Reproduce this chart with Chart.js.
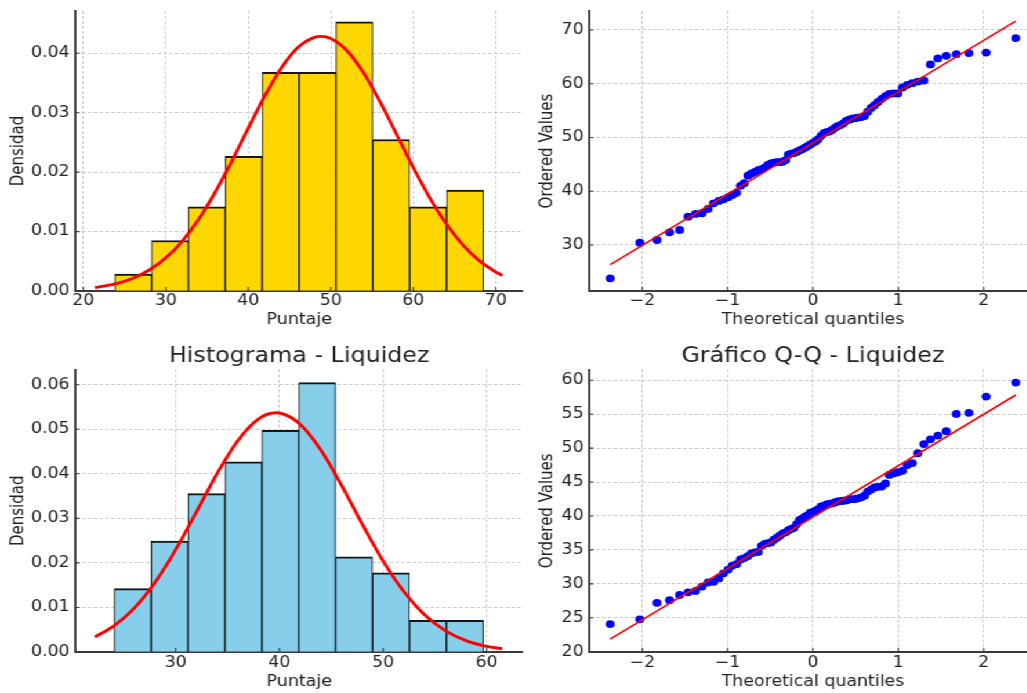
<!DOCTYPE html>
<html>
<head>
<meta charset="utf-8">
<script src="https://cdn.jsdelivr.net/npm/chart.js@4.4.1/dist/chart.umd.min.js"></script>
<style>
  html, body { margin: 0; padding: 0; background: #fff; overflow: hidden; width: 1027px; height: 693px; }
  #fig { position: absolute; left: 0; top: 0; height: 693px; transform-origin: 0 0; }
  #fig canvas { position: absolute; }
</style>
</head>
<body>
<div id="fig"></div>
<script>
// ---------------- data: first variable (upper row) ----------------
const S1_BIN_EDGES = [23.8, 28.27, 32.74, 37.21, 41.68, 46.15, 50.62, 55.09, 59.56, 64.03, 68.5];
const S1_DENSITY = [0.00283, 0.0085, 0.01416, 0.02266, 0.03682, 0.03682, 0.04531, 0.02549, 0.01416, 0.01699];
const S1_CURVE_X = [21.4, 24, 26, 28, 30, 32, 34, 36, 38, 40, 42, 44, 46, 48, 48.8, 50, 52, 54, 56, 58, 60, 62, 64, 66, 68, 70, 70.8];
const S1_CURVE_Y = [0.000564, 0.001234, 0.002136, 0.003532, 0.005579, 0.008411, 0.01211, 0.01666, 0.02186, 0.02742,
                    0.03282, 0.03752, 0.04096, 0.04269, 0.04285, 0.04249, 0.04039, 0.03666, 0.03177, 0.0263,
                    0.02078, 0.01568, 0.0113, 0.007777, 0.005108, 0.003206, 0.002627];
const S1_ORDERED = [23.8, 30.43, 30.93, 32.36, 32.79, 35.27, 35.77, 35.9, 36.7, 37.75,
                    38.2, 38.5, 38.9, 39.3, 39.7, 41.0, 41.5, 42.9, 43.3, 43.6,
                    43.9, 44.1, 44.4, 44.9, 45.2, 45.3, 45.4, 45.4, 45.5, 45.8,
                    46.8, 47.0, 47.1, 47.3, 47.6, 47.8, 48.1, 48.4, 48.7, 49.0,
                    49.3, 49.7, 50.3, 50.8, 51.0, 51.1, 51.4, 51.8, 52.1, 52.3,
                    52.6, 53.1, 53.3, 53.5, 53.6, 53.7, 53.8, 54.0, 54.8, 55.5,
                    56.0, 56.6, 57.2, 57.7, 58.1, 58.2, 58.2, 59.3, 59.8, 60.1,
                    60.4, 60.6, 63.6, 64.7, 65.2, 65.5, 65.7, 65.8, 68.5];
const S1_FIT_X = [-2.377, 2.377];
const S1_FIT_Y = [26.35, 71.65];

// ---------------- data: Liquidez (lower row) ----------------
const LIQ_BIN_EDGES = [24.07, 27.63, 31.19, 34.75, 38.31, 41.87, 45.43, 48.99, 52.55, 56.11, 59.67];
const LIQ_DENSITY = [0.01422, 0.02489, 0.03556, 0.04267, 0.04978, 0.06045, 0.02134, 0.01778, 0.00711, 0.00711];
const LIQ_CURVE_X = [22.2, 24, 26, 28, 30, 32, 34, 36, 38, 39.68, 40, 42, 44, 46, 48, 50, 52, 54, 56, 58, 60, 61.5];
const LIQ_CURVE_Y = [0.003374, 0.005792, 0.009858, 0.01561, 0.02298, 0.03147, 0.04009, 0.04749, 0.05234, 0.05369,
                     0.05364, 0.05114, 0.04534, 0.0374, 0.02868, 0.02046, 0.01358, 0.008381, 0.004811, 0.002569,
                     0.001276, 0.00072];
const LIQ_ORDERED = [24.07, 24.77, 27.2, 27.6, 28.36, 28.75, 28.95, 29.6, 30.2, 30.3,
                     30.8, 31.55, 32.1, 32.7, 32.9, 33.6, 33.8, 34.1, 34.5, 34.65,
                     34.7, 35.6, 35.9, 36.0, 36.1, 36.5, 36.8, 37.1, 37.45, 37.6,
                     37.9, 38.1, 38.25, 38.8, 39.4, 39.6, 39.9, 40.1, 40.5, 40.6,
                     40.8, 41.0, 41.4, 41.5, 41.7, 41.8, 41.85, 42.0, 42.15, 42.2,
                     42.25, 42.3, 42.45, 42.5, 42.5, 42.6, 42.75, 43.0, 43.6, 43.9,
                     44.2, 44.3, 44.35, 44.8, 46.05, 46.3, 46.45, 46.65, 47.5, 47.8,
                     49.25, 50.6, 51.3, 51.85, 52.5, 55.05, 55.2, 57.6, 59.67];
const LIQ_FIT_X = [-2.377, 2.377];
const LIQ_FIT_Y = [21.86, 57.84];

// theoretical normal quantiles for 79 ordered observations
const THEO_Q = [-2.377, -2.030, -1.828, -1.681, -1.563, -1.464, -1.377, -1.300, -1.230, -1.165,
                -1.105, -1.049, -0.995, -0.945, -0.896, -0.850, -0.806, -0.763, -0.721, -0.681,
                -0.642, -0.603, -0.566, -0.529, -0.493, -0.458, -0.423, -0.389, -0.355, -0.321,
                -0.288, -0.256, -0.223, -0.191, -0.159, -0.127, -0.095, -0.063, -0.032, 0,
                0.032, 0.063, 0.095, 0.127, 0.159, 0.191, 0.223, 0.256, 0.288, 0.321,
                0.355, 0.389, 0.423, 0.458, 0.493, 0.529, 0.566, 0.603, 0.642, 0.681,
                0.721, 0.763, 0.806, 0.850, 0.896, 0.945, 0.995, 1.049, 1.105, 1.165,
                1.230, 1.300, 1.377, 1.464, 1.563, 1.681, 1.828, 2.030, 2.377];

// ---------------- tick values and labels ----------------
const S1_HIST_X_TICKS = [20, 30, 40, 50, 60, 70];
const S1_HIST_X_LABELS = ['20', '30', '40', '50', '60', '70'];
const S1_HIST_Y_TICKS = [0, 0.01, 0.02, 0.03, 0.04];
const S1_HIST_Y_LABELS = ['0.00', '0.01', '0.02', '0.03', '0.04'];
const S1_QQ_Y_TICKS = [30, 40, 50, 60, 70];
const S1_QQ_Y_LABELS = ['30', '40', '50', '60', '70'];
const LIQ_HIST_X_TICKS = [30, 40, 50, 60];
const LIQ_HIST_X_LABELS = ['30', '40', '50', '60'];
const LIQ_HIST_Y_TICKS = [0, 0.01, 0.02, 0.03, 0.04, 0.05, 0.06];
const LIQ_HIST_Y_LABELS = ['0.00', '0.01', '0.02', '0.03', '0.04', '0.05', '0.06'];
const LIQ_QQ_Y_TICKS = [20, 25, 30, 35, 40, 45, 50, 55, 60];
const LIQ_QQ_Y_LABELS = ['20', '25', '30', '35', '40', '45', '50', '55', '60'];
const QQ_X_TICKS = [-2, -1, 0, 1, 2];
const QQ_X_LABELS = ['\u22122', '\u22121', '0', '1', '2'];

// ---------------- styling / layout ----------------
const SX = 1.16;                 // horizontal stretch applied to the whole figure
const TEXT = '#222222';
const SPINE = '#3a3a3a';
const GRID = 'rgba(170,170,170,0.75)';
Chart.defaults.font.family = "'DejaVu Sans', sans-serif";

const fig = document.getElementById('fig');
fig.style.width = (1040 / SX) + 'px';
fig.style.transform = 'scaleX(' + SX + ')';

const pts = (xs, ys) => xs.map((x, i) => ({ x: x, y: ys[i] }));
const bins = (edges, dens) => dens.map((d, i) => ({ x: (edges[i] + edges[i + 1]) / 2, y: d }));

// inward tick marks and the optional panel title
const panelDecor = {
  id: 'panelDecor',
  afterDatasetsDraw(chart, args, opts) {
    const { ctx, chartArea: a } = chart;
    const xs = chart.scales.x, ys = chart.scales.y;
    ctx.save();
    ctx.strokeStyle = SPINE;
    ctx.lineWidth = 1.1;
    ctx.beginPath();
    xs.ticks.forEach(t => { const p = xs.getPixelForValue(t.value); ctx.moveTo(p, a.bottom); ctx.lineTo(p, a.bottom - 4); });
    ys.ticks.forEach(t => { const p = ys.getPixelForValue(t.value); ctx.moveTo(a.left, p); ctx.lineTo(a.left + 3.5, p); });
    ctx.stroke();
    if (opts.title) {
      ctx.fillStyle = TEXT;
      ctx.font = '20.5px "DejaVu Sans"';
      ctx.textAlign = 'center';
      ctx.textBaseline = 'alphabetic';
      ctx.fillText(opts.title, (a.left + a.right) / 2, opts.titleY);
    }
    ctx.restore();
  }
};

function axis(spec, isX, size) {
  return {
    type: 'linear',
    position: isX ? 'bottom' : 'left',
    min: spec.min, max: spec.max,
    offset: false,
    afterBuildTicks: s => { s.ticks = spec.ticks.map(v => ({ value: v })); },
    afterFit: s => {
      if (isX) { s.height = size; s.paddingLeft = 0; s.paddingRight = 0; }
      else { s.width = size; s.paddingTop = 0; s.paddingBottom = 0; }
    },
    ticks: {
      autoSkip: false, maxRotation: 0, minRotation: 0,
      padding: spec.pad, color: TEXT, font: { size: 15 },
      callback: (v, i) => spec.labels[i]
    },
    grid: { color: GRID, lineWidth: 0.8, drawTicks: false, offset: false },
    border: { display: true, color: SPINE, width: 1.9, dash: [3, 2] },
    title: {
      display: true, text: spec.title, color: TEXT, font: { size: 15 },
      padding: isX ? { top: 0, bottom: spec.titlePad } : { top: spec.titlePad, bottom: 0 }
    }
  };
}

function panel(p) {
  const canvas = document.createElement('canvas');
  const width = Math.round(p.box.w / SX);
  canvas.width = width;
  canvas.height = p.box.h;
  canvas.style.left = (p.box.x / SX) + 'px';
  canvas.style.top = p.box.y + 'px';
  fig.appendChild(canvas);
  const yAxisW = (p.area.l - p.box.x) / SX;
  const padR = width - (p.area.r - p.box.x) / SX;
  const padT = p.area.t - p.box.y;
  const xAxisH = p.box.y + p.box.h - p.area.b;
  new Chart(canvas, {
    type: p.type,
    data: { datasets: p.datasets },
    plugins: [panelDecor],
    options: {
      responsive: false, animation: false, events: [],
      layout: { autoPadding: false, padding: { left: 0, right: padR, top: padT, bottom: 0 } },
      plugins: {
        legend: { display: false }, tooltip: { enabled: false },
        panelDecor: { title: p.title || '', titleY: p.titleY || 0 }
      },
      scales: { x: axis(p.x, true, xAxisH), y: axis(p.y, false, yAxisW) }
    }
  });
}

function histDatasets(edges, dens, cx, cy, fill) {
  return [
    { type: 'line', data: pts(cx, cy), borderColor: '#ff0000', borderWidth: 2.9, pointRadius: 0,
      cubicInterpolationMode: 'monotone', fill: false },
    { type: 'bar', data: bins(edges, dens), backgroundColor: fill, borderColor: '#151515',
      borderWidth: { top: 2, left: 1.05, right: 1.05, bottom: 0 }, borderSkipped: false,
      barPercentage: 1, categoryPercentage: 1 }
  ];
}

function qqDatasets(ordered, fx, fy) {
  return [
    { type: 'scatter', data: pts(fx, fy), showLine: true, borderColor: '#ff0000', borderWidth: 1.7, pointRadius: 0 },
    { type: 'scatter', data: pts(THEO_Q, ordered), showLine: false, pointRadius: 3.9,
      pointBackgroundColor: '#0000ff', pointBorderWidth: 0, backgroundColor: '#0000ff' }
  ];
}

// upper-left: histogram
panel({
  type: 'bar',
  box: { x: 0, y: 0, w: 530, h: 340 }, area: { l: 75.5, r: 523, t: 11, b: 291 },
  datasets: histDatasets(S1_BIN_EDGES, S1_DENSITY, S1_CURVE_X, S1_CURVE_Y, '#FFD700'),
  x: { min: 19.05, max: 73.3, ticks: S1_HIST_X_TICKS, labels: S1_HIST_X_LABELS, pad: 1.2, title: 'Puntaje', titlePad: 10.5 },
  y: { min: 0, max: 0.04712, ticks: S1_HIST_Y_TICKS, labels: S1_HIST_Y_LABELS, pad: 5, title: 'Densidad', titlePad: 7.3 }
});

// upper-right: Q-Q plot
panel({
  type: 'scatter',
  box: { x: 525, y: 0, w: 515, h: 340 }, area: { l: 589, r: 1036, t: 11, b: 291 },
  datasets: qqDatasets(S1_ORDERED, S1_FIT_X, S1_FIT_Y),
  x: { min: -2.62, max: 2.62, ticks: QQ_X_TICKS, labels: QQ_X_LABELS, pad: 1.2, title: 'Theoretical quantiles', titlePad: 10.5 },
  y: { min: 21.44, max: 73.53, ticks: S1_QQ_Y_TICKS, labels: S1_QQ_Y_LABELS, pad: 5, title: 'Ordered Values', titlePad: 10.2 }
});

// lower-left: histogram Liquidez
panel({
  type: 'bar', title: 'Histograma - Liquidez', titleY: 21.7,
  box: { x: 0, y: 340, w: 530, h: 353 }, area: { l: 75.5, r: 523, t: 369.5, b: 652 },
  datasets: histDatasets(LIQ_BIN_EDGES, LIQ_DENSITY, LIQ_CURVE_X, LIQ_CURVE_Y, '#87CEEB'),
  x: { min: 20.33, max: 63.5, ticks: LIQ_HIST_X_TICKS, labels: LIQ_HIST_X_LABELS, pad: 2.3, title: 'Puntaje', titlePad: 1.6 },
  y: { min: 0, max: 0.06341, ticks: LIQ_HIST_Y_TICKS, labels: LIQ_HIST_Y_LABELS, pad: 5, title: 'Densidad', titlePad: 7.3 }
});

// lower-right: Q-Q plot Liquidez
panel({
  type: 'scatter', title: 'Gráfico Q-Q - Liquidez', titleY: 21.7,
  box: { x: 525, y: 340, w: 515, h: 353 }, area: { l: 589, r: 1036, t: 369.5, b: 652 },
  datasets: qqDatasets(LIQ_ORDERED, LIQ_FIT_X, LIQ_FIT_Y),
  x: { min: -2.62, max: 2.62, ticks: QQ_X_TICKS, labels: QQ_X_LABELS, pad: 2.3, title: 'Theoretical quantiles', titlePad: 1.6 },
  y: { min: 19.956, max: 61.59, ticks: LIQ_QQ_Y_TICKS, labels: LIQ_QQ_Y_LABELS, pad: 5, title: 'Ordered Values', titlePad: 10.2 }
});
</script>
</body>
</html>
